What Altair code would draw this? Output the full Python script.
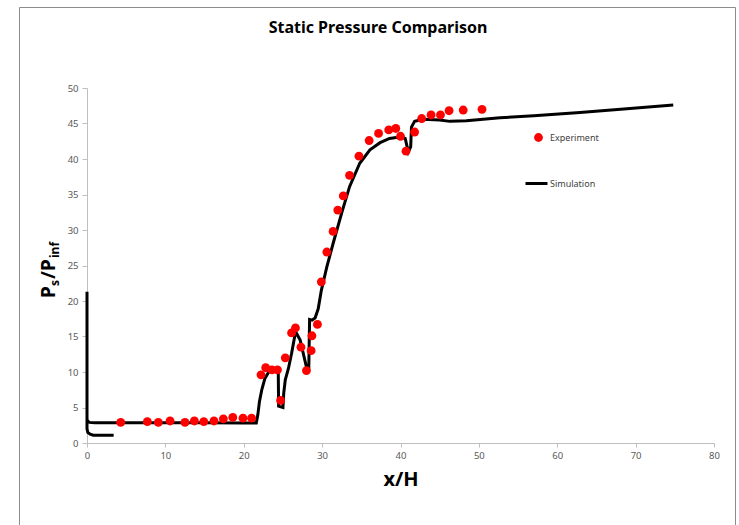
import altair as alt
import pandas as pd

# ---- data ----
exp_x = [4.3, 7.7, 9.1, 10.6, 12.5, 13.7, 14.9, 16.2, 17.4, 18.6, 19.9, 21.0,
         22.2, 22.8, 23.6, 24.3, 24.7, 25.3, 26.1, 26.6, 27.3, 28.0, 28.6, 28.7,
         29.4, 29.9, 30.6, 31.4, 32.0, 32.7, 33.5, 34.7, 36.0, 37.2, 38.5, 39.4,
         40.0, 40.7, 41.8, 42.7, 43.9, 45.1, 46.2, 48.0, 50.4]
exp_y = [2.9, 3.0, 2.9, 3.1, 2.9, 3.1, 3.0, 3.1, 3.4, 3.6, 3.5, 3.5,
         9.6, 10.6, 10.3, 10.3, 6.0, 12.0, 15.5, 16.2, 13.5, 10.2, 13.0, 15.1,
         16.7, 22.7, 26.9, 29.8, 32.8, 34.8, 37.7, 40.4, 42.6, 43.6, 44.1, 44.3,
         43.2, 41.1, 43.8, 45.7, 46.2, 46.2, 46.8, 46.9, 47.0]

# lower wall branch near the inlet
sim_a_x = [0.0, 0.0, 0.1, 0.4, 0.8, 3.4]
sim_a_y = [21.3, 2.0, 1.5, 1.25, 1.1, 1.1]

# main branch
sim_b_x = [0.0, 0.3, 1.0, 5.0, 10.0, 15.0, 20.0, 21.6, 21.8, 22.0, 22.3, 22.7,
           23.3, 24.2, 24.4, 24.45, 25.0, 25.1, 25.3, 25.7, 26.1, 26.5, 26.7,
           27.2, 27.6, 28.0, 28.3, 28.4, 28.7, 29.1, 29.5, 29.9, 30.6, 31.4,
           32.5, 33.5, 34.8, 36.1, 37.4, 38.6, 39.9, 40.6, 41.0, 41.3, 41.4,
           41.8, 42.9, 45.0, 46.3, 48.4, 52.7, 57.0, 62.9, 68.5, 74.8]
sim_b_y = [3.2, 2.9, 2.85, 2.85, 2.85, 2.85, 2.8, 2.8, 4.0, 5.8, 7.5, 9.1,
           10.2, 10.4, 10.3, 5.2, 5.0, 7.0, 8.9, 10.5, 12.6, 15.0, 15.5,
           14.5, 12.6, 10.7, 10.6, 17.4, 17.3, 17.6, 18.9, 21.5, 24.8, 28.1,
           32.4, 36.1, 39.4, 41.3, 42.3, 42.9, 43.1, 42.9, 41.0, 41.7, 44.5,
           45.3, 45.6, 45.5, 45.3, 45.4, 45.8, 46.1, 46.55, 47.05, 47.6]

x_ticks = [0, 10, 20, 30, 40, 50, 60, 70, 80]
y_ticks = [0, 5, 10, 15, 20, 25, 30, 35, 40, 45, 50]

exp_df = pd.DataFrame({"x": exp_x, "y": exp_y, "series": "Experiment"})
sim_df = pd.concat([
    pd.DataFrame({"x": sim_a_x, "y": sim_a_y, "seg": "a", "i": range(len(sim_a_x))}),
    pd.DataFrame({"x": sim_b_x, "y": sim_b_y, "seg": "b", "i": range(len(sim_b_x))}),
])
sim_df["series"] = "Simulation"

FONT = "'Noto Sans', sans-serif"
W, H = 627, 355
OX, OY = 87, 88  # plot origin on page

xs = alt.Scale(domain=[0, 80], nice=False)
ys = alt.Scale(domain=[0, 50], nice=False)

x_axis = alt.Axis(values=x_ticks, grid=False, title="x/H", titleFontSize=20,
                  titleFontWeight="bold", titleColor="#000000", titlePadding=10,
                  labelFontSize=9.5, labelColor="#595959", tickSize=4,
                  labelFlush=False, labelOverlap=False,
                  domainColor="#BFBFBF", tickColor="#BFBFBF", labelPadding=3)
y_axis = alt.Axis(values=y_ticks, grid=False, title=None,
                  labelFontSize=9.5, labelColor="#595959", tickSize=5,
                  labelFlush=False, labelOverlap=False,
                  domainColor="#BFBFBF", tickColor="#BFBFBF", labelPadding=4)

line = alt.Chart(sim_df).mark_line(strokeWidth=3, clip=False).encode(
    x=alt.X("x:Q", scale=xs, axis=x_axis),
    y=alt.Y("y:Q", scale=ys, axis=y_axis),
    detail="seg:N",
    order="i:Q",
    stroke=alt.Stroke("series:N", scale=alt.Scale(range=["#000000"]),
                      legend=alt.Legend(title=None, orient="none", legendX=437, legendY=83,
                                        symbolType="stroke", symbolSize=484,
                                        symbolStrokeWidth=3, labelFontSize=9,
                                        labelColor="#404040", labelOffset=1, padding=0)),
)

points = alt.Chart(exp_df).mark_point(filled=True, size=78, opacity=1, clip=False).encode(
    x=alt.X("x:Q", scale=xs, axis=x_axis),
    y=alt.Y("y:Q", scale=ys, axis=y_axis),
    fill=alt.Fill("series:N", scale=alt.Scale(range=["#FF0000"]),
                  legend=alt.Legend(title=None, orient="none", legendX=447, legendY=45,
                                    symbolType="circle", symbolSize=78,
                                    symbolStrokeWidth=0, labelFontSize=9,
                                    labelColor="#404040", labelOffset=7, padding=0)),
)

one = pd.DataFrame({"k": [0]})

border = alt.Chart(one).mark_rect(filled=False, stroke="#8C8C8C", strokeWidth=1, clip=False).encode(
    x=alt.value(19.5 - OX), x2=alt.value(735.5 - OX),
    y=alt.value(7.5 - OY), y2=alt.value(540 - OY),
)

title = alt.Chart(one).mark_text(text="Static Pressure Comparison", font=FONT,
                                 fontSize=16, fontWeight="bold", color="#000000",
                                 align="center", baseline="alphabetic").encode(
    x=alt.value(378 - OX), y=alt.value(33 - OY))

def ypiece(txt, size, bx, by):
    return alt.Chart(one).mark_text(text=txt, font=FONT, fontSize=size, fontWeight="bold",
                                    color="#000000", angle=270, align="left",
                                    baseline="alphabetic").encode(
        x=alt.value(bx - OX), y=alt.value(by - OY))

ytitle = alt.layer(
    ypiece("P", 19, 55, 298),
    ypiece("s", 12, 59, 286),
    ypiece("/P", 19, 55, 279),
    ypiece("inf", 12, 59, 258),
)

chart = alt.layer(border, line, points, title, ytitle).properties(
    width=W, height=H,
    autosize=alt.AutoSizeParams(type="none"),
    padding={"left": OX, "top": OY, "right": 739 - OX - W, "bottom": 525 - OY - H},
    background="white",
).configure(font=FONT).configure_view(stroke=None)

chart.save("out.html", embed_options={"renderer": "svg", "actions": False})
